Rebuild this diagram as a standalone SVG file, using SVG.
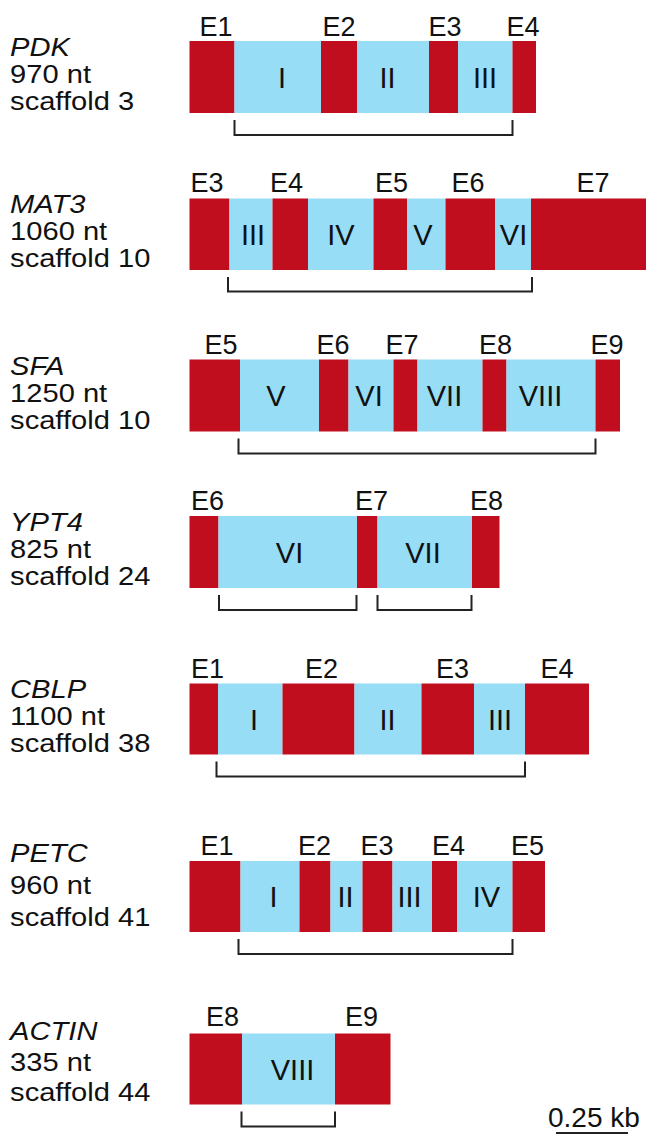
<svg xmlns="http://www.w3.org/2000/svg" width="648" height="1135" viewBox="0 0 648 1135">
<style>
.ex{fill:#C00E1E}
.in{fill:#98DDF6}
.lab{font-family:"Liberation Sans",Arial,sans-serif;font-size:26px;fill:#111;transform:scaleX(1.12)}
.gn{font-style:italic}
.sc{font-family:"Liberation Sans",Arial,sans-serif;font-size:28px;fill:#111}
.el{font-family:"Liberation Sans",Arial,sans-serif;font-size:27px;fill:#111;text-anchor:middle}
.rn{font-family:"Liberation Sans",Arial,sans-serif;font-size:29px;fill:#111;text-anchor:middle}
.br{fill:none;stroke:#222;stroke-width:2}
</style>
<rect width="648" height="1135" fill="#fff"/>

<g id="PDK">
<rect class="ex" x="189.5" y="41" width="45" height="72"/>
<rect class="in" x="234.5" y="41" width="86.5" height="72"/>
<rect class="ex" x="321" y="41" width="36" height="72"/>
<rect class="in" x="357" y="41" width="72" height="72"/>
<rect class="ex" x="429" y="41" width="29" height="72"/>
<rect class="in" x="458" y="41" width="54.5" height="72"/>
<rect class="ex" x="512.5" y="41" width="23.5" height="72"/>
<text class="el" x="216" y="35.5">E1</text>
<text class="el" x="339" y="35.5">E2</text>
<text class="el" x="445" y="35.5">E3</text>
<text class="el" x="523" y="35.5">E4</text>
<text class="rn" x="282" y="87.5">I</text>
<text class="rn" x="387.5" y="87.5">II</text>
<text class="rn" x="485" y="87.5">III</text>
<text class="lab gn" x="9" y="56">PDK</text>
<text class="lab" x="9" y="83">970 nt</text>
<text class="lab" x="9" y="110">scaffold 3</text>
</g>

<g id="MAT3">
<rect class="ex" x="189.5" y="198.5" width="40" height="71.5"/>
<rect class="in" x="229.5" y="198.5" width="43" height="71.5"/>
<rect class="ex" x="272.5" y="198.5" width="35.5" height="71.5"/>
<rect class="in" x="308" y="198.5" width="65.5" height="71.5"/>
<rect class="ex" x="373.5" y="198.5" width="33.5" height="71.5"/>
<rect class="in" x="407" y="198.5" width="38.5" height="71.5"/>
<rect class="ex" x="445.5" y="198.5" width="49.5" height="71.5"/>
<rect class="in" x="495" y="198.5" width="36" height="71.5"/>
<rect class="ex" x="531" y="198.5" width="115" height="71.5"/>
<text class="el" x="207" y="192">E3</text>
<text class="el" x="286.5" y="192">E4</text>
<text class="el" x="391.5" y="192">E5</text>
<text class="el" x="468" y="192">E6</text>
<text class="el" x="593" y="192">E7</text>
<text class="rn" x="253" y="244.5">III</text>
<text class="rn" x="341" y="244.5">IV</text>
<text class="rn" x="423" y="244.5">V</text>
<text class="rn" x="513.5" y="244.5">VI</text>
<text class="lab gn" x="9" y="213">MAT3</text>
<text class="lab" x="9" y="240">1060 nt</text>
<text class="lab" x="9" y="267">scaffold 10</text>
</g>

<g id="SFA">
<rect class="ex" x="189.5" y="359.5" width="50.5" height="72"/>
<rect class="in" x="240" y="359.5" width="79" height="72"/>
<rect class="ex" x="319" y="359.5" width="29.5" height="72"/>
<rect class="in" x="348.5" y="359.5" width="45" height="72"/>
<rect class="ex" x="393.5" y="359.5" width="24" height="72"/>
<rect class="in" x="417.5" y="359.5" width="65" height="72"/>
<rect class="ex" x="482.5" y="359.5" width="24" height="72"/>
<rect class="in" x="506.5" y="359.5" width="89" height="72"/>
<rect class="ex" x="595.5" y="359.5" width="24.5" height="72"/>
<text class="el" x="221" y="353.5">E5</text>
<text class="el" x="333" y="353.5">E6</text>
<text class="el" x="402" y="353.5">E7</text>
<text class="el" x="495.5" y="353.5">E8</text>
<text class="el" x="607" y="353.5">E9</text>
<text class="rn" x="276" y="406">V</text>
<text class="rn" x="369" y="406">VI</text>
<text class="rn" x="444.5" y="406">VII</text>
<text class="rn" x="540.5" y="406">VIII</text>
<text class="lab gn" x="9" y="375">SFA</text>
<text class="lab" x="9" y="402">1250 nt</text>
<text class="lab" x="9" y="429">scaffold 10</text>
</g>

<g id="YPT4">
<rect class="ex" x="189.5" y="516" width="29" height="72"/>
<rect class="in" x="218.5" y="516" width="138.5" height="72"/>
<rect class="ex" x="357" y="516" width="20.5" height="72"/>
<rect class="in" x="377.5" y="516" width="94.5" height="72"/>
<rect class="ex" x="472" y="516" width="27.5" height="72"/>
<text class="el" x="207.5" y="510">E6</text>
<text class="el" x="371.5" y="510">E7</text>
<text class="el" x="486.5" y="510">E8</text>
<text class="rn" x="289.5" y="562.5">VI</text>
<text class="rn" x="423" y="562.5">VII</text>
<text class="lab gn" x="9" y="531.5">YPT4</text>
<text class="lab" x="9" y="558.5">825 nt</text>
<text class="lab" x="9" y="585.5">scaffold 24</text>
</g>

<g id="CBLP">
<rect class="ex" x="189.5" y="683.5" width="28.5" height="71"/>
<rect class="in" x="218" y="683.5" width="64.5" height="71"/>
<rect class="ex" x="282.5" y="683.5" width="72" height="71"/>
<rect class="in" x="354.5" y="683.5" width="67" height="71"/>
<rect class="ex" x="421.5" y="683.5" width="52.5" height="71"/>
<rect class="in" x="474" y="683.5" width="51" height="71"/>
<rect class="ex" x="525" y="683.5" width="64" height="71"/>
<text class="el" x="207.5" y="678">E1</text>
<text class="el" x="321.5" y="678">E2</text>
<text class="el" x="452.5" y="678">E3</text>
<text class="el" x="557" y="678">E4</text>
<text class="rn" x="254" y="729.5">I</text>
<text class="rn" x="387.5" y="729.5">II</text>
<text class="rn" x="500" y="729.5">III</text>
<text class="lab gn" x="9" y="698">CBLP</text>
<text class="lab" x="9" y="725">1100 nt</text>
<text class="lab" x="9" y="752">scaffold 38</text>
</g>

<g id="PETC">
<rect class="ex" x="189.5" y="861" width="51" height="71"/>
<rect class="in" x="240.5" y="861" width="59" height="71"/>
<rect class="ex" x="299.5" y="861" width="31" height="71"/>
<rect class="in" x="330.5" y="861" width="32" height="71"/>
<rect class="ex" x="362.5" y="861" width="30" height="71"/>
<rect class="in" x="392.5" y="861" width="39.5" height="71"/>
<rect class="ex" x="432" y="861" width="25" height="71"/>
<rect class="in" x="457" y="861" width="55.5" height="71"/>
<rect class="ex" x="512.5" y="861" width="32.5" height="71"/>
<text class="el" x="217" y="855">E1</text>
<text class="el" x="314.5" y="855">E2</text>
<text class="el" x="377" y="855">E3</text>
<text class="el" x="448.5" y="855">E4</text>
<text class="el" x="527.5" y="855">E5</text>
<text class="rn" x="273.5" y="907">I</text>
<text class="rn" x="345.5" y="907">II</text>
<text class="rn" x="409.5" y="907">III</text>
<text class="rn" x="486.5" y="907">IV</text>
<text class="lab gn" x="9" y="862">PETC</text>
<text class="lab" x="9" y="894">960 nt</text>
<text class="lab" x="9" y="926">scaffold 41</text>
</g>

<g id="ACTIN">
<rect class="ex" x="189.5" y="1033.5" width="52.5" height="71"/>
<rect class="in" x="242" y="1033.5" width="93" height="71"/>
<rect class="ex" x="335" y="1033.5" width="55.5" height="71"/>
<text class="el" x="222.5" y="1026">E8</text>
<text class="el" x="361.5" y="1026">E9</text>
<text class="rn" x="292.5" y="1079.5">VIII</text>
<text class="lab gn" x="9" y="1040">ACTIN</text>
<text class="lab" x="9" y="1071">335 nt</text>
<text class="lab" x="9" y="1101">scaffold 44</text>
</g>

<g id="connectors">
<path class="br" d="M234.5 120V135H512.5V120"/>
<path class="br" d="M228 277V291.5H532V277"/>
<path class="br" d="M238.5 438.5V453.5H595.5V438.5"/>
<path class="br" d="M219 595V610H356.5V595"/>
<path class="br" d="M377.5 595V610H471.5V595"/>
<path class="br" d="M216.5 761.5V776.5H525V761.5"/>
<path class="br" d="M238.5 939V954H512.5V939"/>
<path class="br" d="M241.5 1111.5V1126.5H335V1111.5"/>
</g>

<g id="scale">
<text class="sc" x="548" y="1126.5">0.25 kb</text>
<line x1="556" y1="1133" x2="628" y2="1133" stroke="#222" stroke-width="2"/>
</g>
</svg>
